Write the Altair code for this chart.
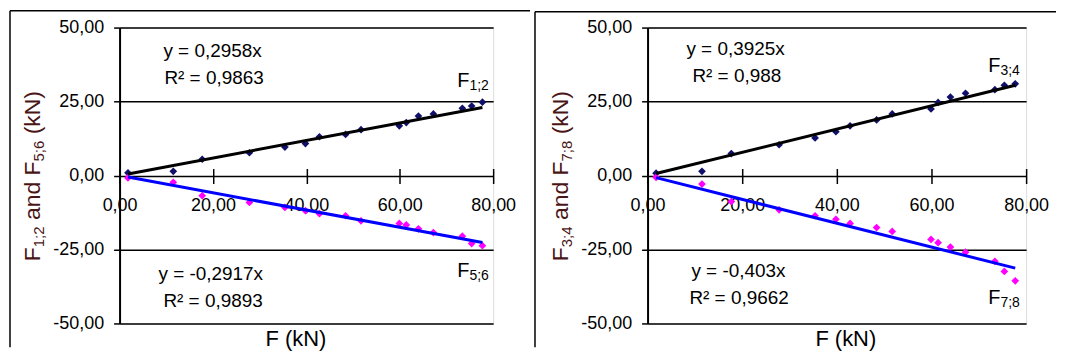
import altair as alt
import pandas as pd

FONT = "Liberation Sans"

# Shared applied load F (kN)
F_VALS = [1.8, 11.5, 17.7, 27.8, 35.4, 39.8, 42.8, 48.4, 51.7, 59.9, 61.4, 64.0, 67.2, 73.4, 75.4, 77.7]
# Left panel series
F12 = [0.9, 1.4, 5.5, 7.7, 9.6, 10.8, 13.1, 13.9, 15.5, 16.8, 17.9, 20.1, 20.8, 22.7, 23.5, 24.8]
F56 = [-0.8, -2.3, -6.8, -9.1, -10.8, -11.9, -12.9, -13.6, -15.3, -16.2, -16.7, -18.0, -19.3, -20.5, -23.0, -23.7]
# Right panel series
F34 = [0.8, 1.4, 7.4, 10.4, 12.7, 14.8, 16.8, 18.8, 20.8, 22.5, 24.7, 26.5, 27.8, 29.0, 30.5, 31.0]
F78 = [-0.6, -2.9, -8.8, -11.6, -13.6, -14.8, -16.2, -17.6, -18.9, -21.6, -22.7, -24.2, -25.9, -29.0, -32.4, -35.6]
# Trendline slopes (y = a x)
SLOPES_LEFT = [0.2958, -0.2917]
SLOPES_RIGHT = [0.3925, -0.403]
R2_LEFT = ["0,9863", "0,9893"]
R2_RIGHT = ["0,988", "0,9662"]
X_TICKS = [0, 20, 40, 60, 80]
Y_TICKS = [-50, -25, 0, 25, 50]

NAVY = "#10106a"
MAGENTA = "#ff00ff"
TITLE_COLOR = "#4a1515"

CW = {'F': 0.611, ';': 0.278, ' ': 0.278, 'a': 0.556, 'n': 0.556, 'd': 0.556,
      '(': 0.333, 'k': 0.5, 'N': 0.722, ')': 0.333}


def tw(s, size):
    return sum(CW.get(c, 0.556) for c in s) * size


FMT = "replace(replace(format(datum.value, '.2f'), '.', ','), '\u2212', '-')"


def txt(s, x, y, size, color="black", angle=0, align="left", baseline="alphabetic"):
    return alt.Chart(alt.Data(values=[{"t": s}])).mark_text(
        align=align, baseline=baseline, fontSize=size, font=FONT, color=color, angle=angle
    ).encode(x=alt.value(x), y=alt.value(y), text="t:N")


def panel(width, height, pos, neg, slopes, r2s, names, txtpos, labx, laby, ytitle, frame, xtitle_x):
    x_enc = alt.X("F:Q", scale=alt.Scale(domain=[0, 80], nice=False, zero=False),
                  axis=alt.Axis(values=X_TICKS, labelExpr=FMT, orient="bottom", offset=-(height / 2 + 7),
                                domain=False, tickSize=15, tickColor="black", tickWidth=1.5, grid=False,
                                labelFontSize=18, labelPadding=13, labelFlush=False, labelOverlap=False,
                                labelColor="black", labelFont=FONT, title=None))
    y_enc = alt.Y("v:Q", scale=alt.Scale(domain=[-50, 50], nice=False, zero=False),
                  axis=alt.Axis(values=Y_TICKS, labelExpr=FMT, grid=True, gridColor="black", gridWidth=1.5,
                                gridOpacity=1, domainColor="black", domainWidth=2, tickSize=6,
                                tickColor="black", tickWidth=1.5, labelPadding=10, labelFontSize=18,
                                labelColor="black", labelFont=FONT, title=None))
    dpos = pd.DataFrame({"F": F_VALS, "v": pos})
    dneg = pd.DataFrame({"F": F_VALS, "v": neg})
    xs = [min(F_VALS), max(F_VALS)]
    tpos = pd.DataFrame({"F": xs, "v": [slopes[0] * x for x in xs]})
    tneg = pd.DataFrame({"F": xs, "v": [slopes[1] * x for x in xs]})

    layers = []
    fx, fy, fx2, fy2 = frame
    layers.append(alt.Chart(alt.Data(values=[{}])).mark_rule(color="black", strokeWidth=1.5)
                  .encode(x=alt.value(fx), y=alt.value(fy), y2=alt.value(fy2)))
    layers.append(alt.Chart(alt.Data(values=[{}])).mark_rule(color="black", strokeWidth=1.5)
                  .encode(x=alt.value(fx), x2=alt.value(fx2), y=alt.value(fy)))
    layers.append(alt.Chart(dpos).mark_point(shape="diamond", filled=True, size=60, color=NAVY, opacity=1)
                  .encode(x=x_enc, y=y_enc))
    layers.append(alt.Chart(dneg).mark_point(shape="diamond", filled=True, size=60, color=MAGENTA, opacity=1)
                  .encode(x=x_enc, y=y_enc))
    layers.append(alt.Chart(tpos).mark_line(color="black", strokeWidth=3).encode(x=x_enc, y=y_enc))
    layers.append(alt.Chart(tneg).mark_line(color="#0000ff", strokeWidth=3).encode(x=x_enc, y=y_enc))

    # equations
    (e1x, e1y), (r1x, r1y), (e2x, e2y), (r2x, r2y) = txtpos
    s0 = ("%.4f" % slopes[0]).rstrip("0").replace(".", ",")
    s1 = ("%.4f" % slopes[1]).rstrip("0").replace(".", ",")
    layers.append(txt("y = " + s0 + "x", e1x, e1y, 19))
    layers.append(txt("R\u00b2 = " + r2s[0], r1x, r1y, 19))
    layers.append(txt("y = " + s1 + "x", e2x, e2y, 19))
    layers.append(txt("R\u00b2 = " + r2s[1], r2x, r2y, 19))

    # series labels with subscripts
    for (sub, ly) in zip(names, laby):
        layers.append(txt("F", labx, ly, 20))
        layers.append(txt(sub, labx + tw("F", 20), ly + 3, 14))

    # rotated y title with subscripts (gap = leading space width, drawn separately)
    cur = height / 2 + 86
    base_x = -80
    pieces = [("F", 23, 0, 0), (ytitle[0], 15, 4, 0), ("and F", 23, 0, 1), (ytitle[1], 15, 4, 0),
              ("(kN)", 23, 0, 1)]
    for s, size, sh, gap in pieces:
        cur -= gap * tw(" ", size)
        layers.append(txt(s, base_x + sh, cur, size, color=TITLE_COLOR, angle=270))
        cur -= tw(s, size)

    layers.append(txt("F (kN)", xtitle_x, 320, 22, align="center"))

    return alt.layer(*layers).properties(width=width, height=height)


H = 297
left = panel(375, H, F12, F56, SLOPES_LEFT, R2_LEFT, ["1;2", "5;6"],
             [(44, 30), (45, 57), (39, 253), (44, 280)], 339, [60, 250], ["1;2", "5;6"],
             (-110, -17, 412, 321), 177)
right = panel(380, H, F34, F78, SLOPES_RIGHT, R2_RIGHT, ["3;4", "7;8"],
              [(39, 28), (45, 55), (44, 250), (42, 277)], 342, [45, 277], ["3;4", "7;8"],
              (-113, -16, 410, 321), 199)

chart = alt.hconcat(left, right, spacing=155, bounds="flush").properties(
    padding=0
).configure_view(strokeWidth=0).configure(font=FONT)

chart.save("out.html", embed_options={"renderer": "svg", "actions": False})
